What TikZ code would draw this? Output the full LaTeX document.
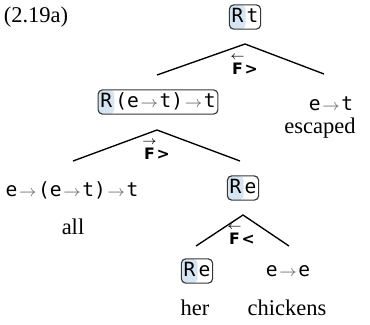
\documentclass[tikz,border=0pt]{standalone}
\usepackage{amsmath}
\usepackage{fontspec}
\setmainfont{Liberation Serif}
\setmonofont[Scale=0.87]{DejaVu Sans Mono}
\newfontfamily\opfont{DejaVu Sans}
\usepackage{tikz}
\usetikzlibrary{calc}
\definecolor{rShade}{RGB}{214,229,241}
\definecolor{boxLine}{RGB}{55,55,55}
\definecolor{arrGray}{RGB}{105,105,105}
\newcommand{\tar}{\hspace{0.07em}{\color{arrGray}\scriptsize$\rightarrow$}\hspace{0.07em}}
\newcommand{\Fop}[2]{{\opfont\bfseries\fontsize{7}{8}\selectfont
  \makebox[0pt][l]{\raisebox{1.75ex}{\makebox[0.68em][c]{\fontsize{5}{5}\selectfont$#1$}}}F\hspace{0.12em}#2}}

\begin{document}
\begin{tikzpicture}[x=0.4444pt,y=-0.4444pt,
  typ/.style={font=\ttfamily, inner sep=0.5pt, text height=7.5pt, text depth=2.3pt},
  rbox/.style={typ, draw=boxLine, rounded corners=2pt, line width=0.5pt, inner xsep=1pt,
    path picture={\fill[rShade] (path picture bounding box.south west) rectangle ([xshift=7.2pt]path picture bounding box.north west);}},
  word/.style={inner sep=0.5pt},
  opl/.style={inner sep=0.5pt},
  rule/.style={line width=0.6pt}]
\useasboundingbox (0,0) rectangle (370,324);
\node[word] (eqn) at (36,17) {(2.19a)};
% root
\node[rbox] (top) at (245,17) {R\,t};
\coordinate (ap1) at (245,44);
\coordinate (l1) at (157,75);
\coordinate (r1) at (324,74);
\draw[rule] (l1) -- (ap1) -- (r1);
\node[opl] (op1) at (245,65) {\Fop{\leftarrow}{>}};
% left daughter
\node[rbox] (lft) at (158,102) {R\,(e\tar t)\tar t};
\node[typ] (rgt) at (331,105) {e\tar t};
\node[word] (escaped) at (320,128) {escaped};
\coordinate (ap2) at (157,130);
\coordinate (l2) at (73,161);
\coordinate (r2) at (240,161);
\draw[rule] (l2) -- (ap2) -- (r2);
\node[opl] (op2) at (157,150) {\Fop{\rightarrow}{>}};
\node[typ] (quant) at (72,191) {e\tar(e\tar t)\tar t};
\node[word] (all) at (73,227) {all};
\node[rbox] (np) at (243,188) {R\,e};
% noun phrase
\coordinate (ap3) at (243,215);
\coordinate (l3) at (196,246);
\coordinate (r3) at (289,246);
\draw[rule] (l3) -- (ap3) -- (r3);
\node[opl] (op3) at (242,235) {\Fop{\leftarrow}{<}};
\node[rbox] (det) at (197,271) {R\,e};
\node[word] (her) at (195,308) {her};
\node[typ] (noun) at (288,271) {e\tar e};
\node[word] (chickens) at (287,308) {chickens};
\end{tikzpicture}
\end{document}
